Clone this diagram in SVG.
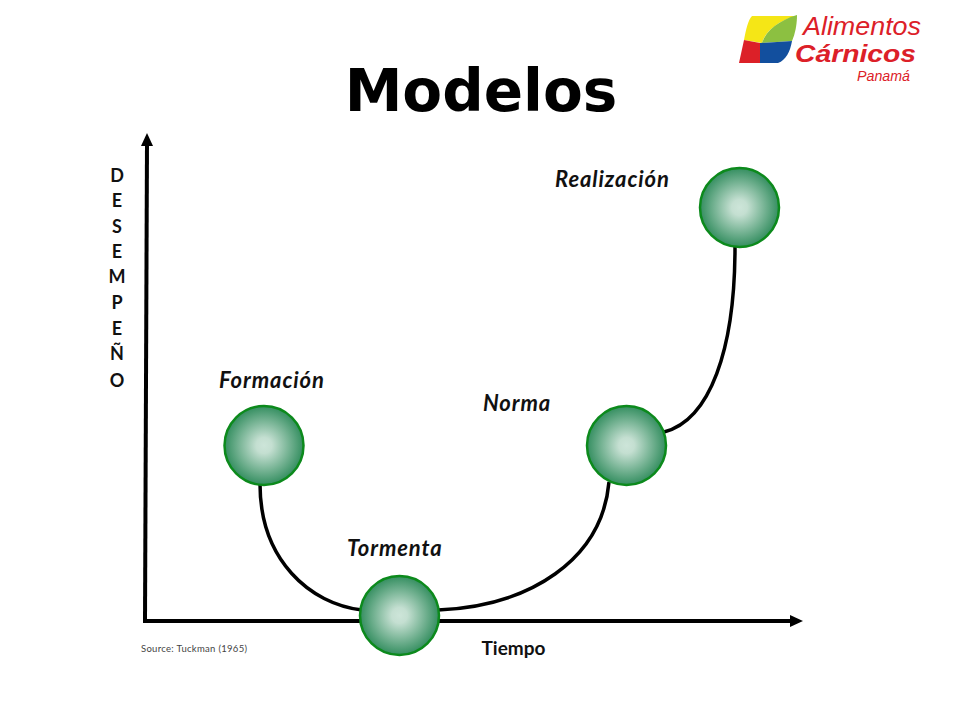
<svg xmlns="http://www.w3.org/2000/svg" width="960" height="720" viewBox="0 0 960 720">
<style>
.lab{font-family:Lato,"Open Sans",sans-serif;font-weight:700;font-style:italic;font-size:22px;letter-spacing:.9px;fill:#111}
.ax{font-family:Lato,"Open Sans",sans-serif;font-weight:700;font-size:18px;fill:#111;text-anchor:middle}
.logo{font-family:"Liberation Sans",sans-serif;font-style:italic;fill:#dc2028}
.node{fill:url(#g);stroke:#0c8a1c;stroke-width:2.500}
.curve{fill:none;stroke:#000;stroke-width:3.500}
.axis{fill:none;stroke:#000;stroke-width:4}
</style>
<defs>
<radialGradient id="g" cx="50%" cy="50%" r="50%">
<stop offset="0" stop-color="#cde5d9"/><stop offset="0.2" stop-color="#c4dfd1"/><stop offset="1" stop-color="#348e60"/>
</radialGradient>
</defs>
<rect width="960" height="720" fill="#fff"/>
<text x="481" y="111" text-anchor="middle" font-family="DejaVu Sans, sans-serif" font-weight="700" font-size="58" fill="#000">Modelos</text>
<g id="logo">
<path d="M752 16H797C780 20 766 30 762 43L744 40C746 30 748 20 752 16Z" fill="#f5e616"/>
<path d="M762 43C766 30 780 20 797 15C797 25 795 34 792 41Z" fill="#8cc041"/>
<path d="M744 40L760 43V63H739Z" fill="#dc2028"/>
<path d="M760 43L792 41C790 52 786 60 778 63H760Z" fill="#124f9e"/>
<text class="logo" x="803" y="35" font-size="25" textLength="118" lengthAdjust="spacingAndGlyphs">Alimentos</text>
<text class="logo" x="795" y="62" font-size="24" font-weight="700" textLength="121" lengthAdjust="spacingAndGlyphs">Cárnicos</text>
<text class="logo" x="857" y="81" font-size="14" textLength="53" lengthAdjust="spacingAndGlyphs">Panamá</text>
</g>
<g id="connectors">
<path class="axis" d="M145 621L147 143"/>
<path d="M147 133L153 146H141Z" fill="#000"/>
<path class="axis" d="M143 621H792"/>
<path d="M803 621L790 615V627Z" fill="#000"/>
<path class="curve" d="M260 484C260 560 310 604 362 610"/>
<path class="curve" d="M438 610C530 606 602 560 609 482"/>
<path class="curve" d="M664 432C710 420 735 350 735 247"/>
</g>
<g id="node-formacion"><circle class="node" cx="264" cy="445.500" r="39.500"/><text class="lab" x="219" y="388">Formación</text></g>
<g id="node-tormenta"><circle class="node" cx="399.500" cy="615.500" r="39.500"/><text class="lab" x="347" y="556">Tormenta</text></g>
<g id="node-norma"><circle class="node" cx="626.500" cy="445.500" r="39.500"/><text class="lab" x="483" y="411">Norma</text></g>
<g id="node-realizacion"><circle class="node" cx="739.500" cy="207.500" r="39.500"/><text class="lab" x="555" y="187">Realización</text></g>
<g id="labels">
<g class="ax">
<text x="117" y="182">D</text><text x="117" y="207">E</text><text x="117" y="233">S</text><text x="117" y="258">E</text><text x="117" y="283">M</text><text x="117" y="309">P</text><text x="117" y="335">E</text><text x="117" y="360">Ñ</text><text x="117" y="387">O</text>
</g>
<text class="ax" x="513.500" y="655" font-size="19" style="font-size:19px">Tiempo</text>
<text x="141" y="652" font-family="Lato, Open Sans, sans-serif" font-size="9.500" letter-spacing=".3" fill="#444">Source: Tuckman (1965)</text>
</g>
</svg>
